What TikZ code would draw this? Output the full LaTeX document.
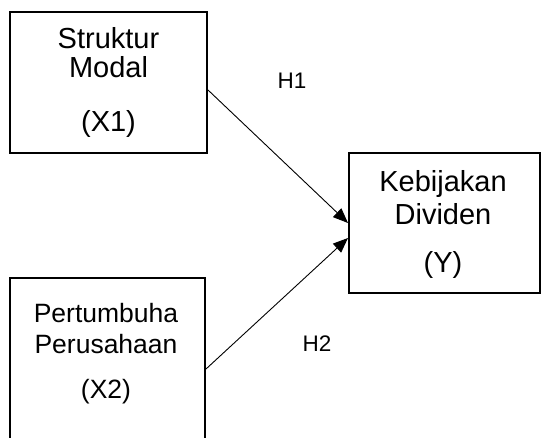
\documentclass[tikz,border=0pt]{standalone}
\usepackage{fontspec}
\setmainfont{Liberation Sans}
\usetikzlibrary{arrows.meta}
\begin{document}
\begin{tikzpicture}[x=1pt,y=1pt,
  box/.style={draw=black,line width=2pt,rectangle,inner sep=0pt},
  txt/.style={anchor=base,inner sep=0pt,font=\fontsize{29}{32}\selectfont},
  txtb/.style={anchor=base,inner sep=0pt,font=\fontsize{26.5}{30}\selectfont},
  hlab/.style={inner sep=0pt,font=\fontsize{22.5}{26}\selectfont},
  link/.style={line width=0.9pt,-{Triangle[length=15pt,width=12pt]}}]
\useasboundingbox (0,0) rectangle (541,-438);
\clip (0,0) rectangle (541,-438);
\fill[white] (0,0) rectangle (541,-438);
% boxes
\node[box,minimum width=197pt,minimum height=141pt] (b1) at (108.5,-82.5) {};
\node[box,minimum width=195pt,minimum height=170pt] (b2) at (107.5,-363) {};
\node[box,minimum width=191pt,minimum height=140pt] (b3) at (444.5,-223) {};
% texts
\node[txt] (t11) at (108.5,-49) {Struktur};
\node[txt] (t12) at (108.5,-78) {Modal};
\node[txt] (t13) at (108.5,-132) {(X1)};
\node[txtb] (t21) at (106,-323) {Pertumbuha};
\node[txtb] (t22) at (106,-353) {Perusahaan};
\node[txtb] (t23) at (106,-398) {(X2)};
\node[txt] (t31) at (443,-192) {Kebijakan};
\node[txt] (t32) at (443,-225) {Dividen};
\node[txt] (t33) at (443,-273) {(Y)};
% labels
\node[hlab] (h1) at (292,-81) {H1};
\node[hlab] (h2) at (317,-344) {H2};
% connectors
\coordinate (s1) at ([yshift=-7.5pt]b1.east);
\coordinate (s2) at (b2.east |- 0,-369);
\coordinate (e1) at (b3.west);
\coordinate (e2) at ([yshift=-15pt]b3.west);
\draw[link] (s1) -- (e1);
\draw[link] (s2) -- (e2);
\end{tikzpicture}
\end{document}
